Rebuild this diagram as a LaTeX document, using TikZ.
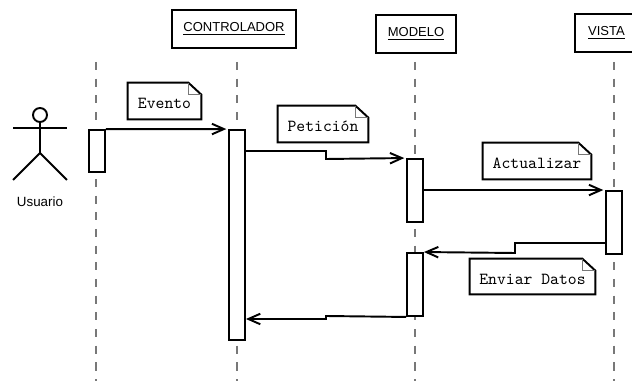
\documentclass[tikz,border=0pt]{standalone}
\usepackage{fontspec}
\usepackage{xcolor}
\usepackage{tikz}
\usetikzlibrary{arrows.meta, calc}
\newfontfamily\cabecera{Liberation Sans}
\definecolor{lineagris}{RGB}{120, 120, 120}

\begin{document}
\begin{tikzpicture}[
    x=0.02cm, y=-0.02cm,
    objeto/.style={rectangle, draw=black, line width=1.1pt, fill=white, inner sep=0pt,
                   minimum height=0.76cm, font=\cabecera\fontsize{7.4}{9}\selectfont},
    barra/.style={rectangle, draw=black, line width=1.1pt, fill=white, inner sep=0pt,
                  minimum width=0.32cm},
    nota/.style={rectangle, inner sep=0pt, minimum height=0.72cm,
                 text height=8.8pt, text depth=0pt,
                 font=\ttfamily\fontsize{9.6}{11}\selectfont},
    linea/.style={draw=lineagris, line width=1pt, dash pattern=on 4.6pt off 4.9pt},
    trazo/.style={draw=black, line width=1.1pt},
    arrow/.style={trazo, -{Straight Barb[length=6.8pt, width=6pt, line width=1.1pt]}},
    llegada/.style={arrow, shorten >=1pt}
]
    \useasboundingbox (0,0) rectangle (632,381);

    % Lifelines
    \coordinate (usrtop) at (96,62);
    \coordinate (usrbot) at (96,381);
    \coordinate (ctrtop) at (237,62);
    \coordinate (ctrbot) at (237,381);
    \coordinate (modtop) at (415,62);
    \coordinate (modbot) at (415,381);
    \coordinate (vistop) at (614,62);
    \coordinate (visbot) at (614,381);
    \foreach \n in {usr, ctr, mod, vis}
        \draw[linea] (\n top) -- (\n bot);

    % Objects
    \node[objeto, minimum width=2.48cm] (controlador) at (234,29) {\underline{CONTROLADOR}};
    \node[objeto, minimum width=1.6cm] (modelo) at (416,34) {\underline{MODELO}};
    \node[objeto, minimum width=1.26cm] (vista) at (606.5,33) {\underline{VISTA}};

    % Actor
    \node[circle, trazo, minimum size=0.28cm, inner sep=0pt] (cabeza) at (40,115) {};
    \coordinate (brazoi) at (13,128);
    \coordinate (brazod) at (67,128);
    \coordinate (cadera) at (40,153);
    \coordinate (piei) at (13,180);
    \coordinate (pied) at (67,180);
    \draw[trazo] (brazoi) -- (brazod);
    \draw[trazo] (cabeza) -- (cadera);
    \draw[trazo] (piei) -- (cadera) -- (pied);
    \node[font=\cabecera\fontsize{7.6}{9}\selectfont] (usuario) at (40,202) {Usuario};

    % Activation bars
    \node[barra, minimum height=0.84cm] (barusr) at (96.8,151) {};
    \node[barra, minimum height=4.2cm] (barctr) at (237,235) {};
    \node[barra, minimum height=1.26cm] (barmoda) at (415,190.5) {};
    \node[barra, minimum height=1.26cm] (barmodb) at (415,284.5) {};
    \node[barra, minimum height=1.26cm] (barvis) at (614,222.5) {};

    % Notes
    \node[nota, minimum width=1.46cm] (evento) at (164.5,101) {Evento};
    \node[nota, minimum width=1.8cm] (peticion) at (323,124) {Petición};
    \node[nota, minimum width=2.16cm] (actualizar) at (537,161) {Actualizar};
    \node[nota, minimum width=2.5cm, minimum height=0.7cm] (enviar) at (532.5,276.5) {Enviar Datos};
    \foreach \n in {evento, peticion, actualizar, enviar} {
        \draw[trazo] (\n.north west) -- ($(\n.north east)+(-13,0)$)
            -- ($(\n.north east)+(0,12)$) -- (\n.south east) -- (\n.south west) -- cycle;
        \draw[draw=lineagris, line width=0.6pt] ($(\n.north east)+(-13,0)$)
            -- ($(\n.north east)+(-13,12)$) -- ($(\n.north east)+(0,12)$);
    }

    % Messages
    \coordinate (peta) at (326,151);
    \coordinate (petb) at (326,159);
    \coordinate (enva) at (515,243);
    \coordinate (envb) at (515,253);
    \coordinate (reta) at (326,316);
    \coordinate (retb) at (326,319);
    \draw[llegada] (barusr.north east) -- (barctr.north west);
    \draw[llegada] (barctr.east |- peta) -- (peta) -- (petb) -- (barmoda.north west);
    \draw[llegada] (barmoda.east |- barvis.north) -- (barvis.north west);
    \draw[arrow] (barvis.west |- enva) -- (enva) -- (envb) -- (barmodb.north east);
    \draw[arrow] (barmodb.south west) -- (reta) -- (retb) -- (barctr.east |- retb);
\end{tikzpicture}
\end{document}
